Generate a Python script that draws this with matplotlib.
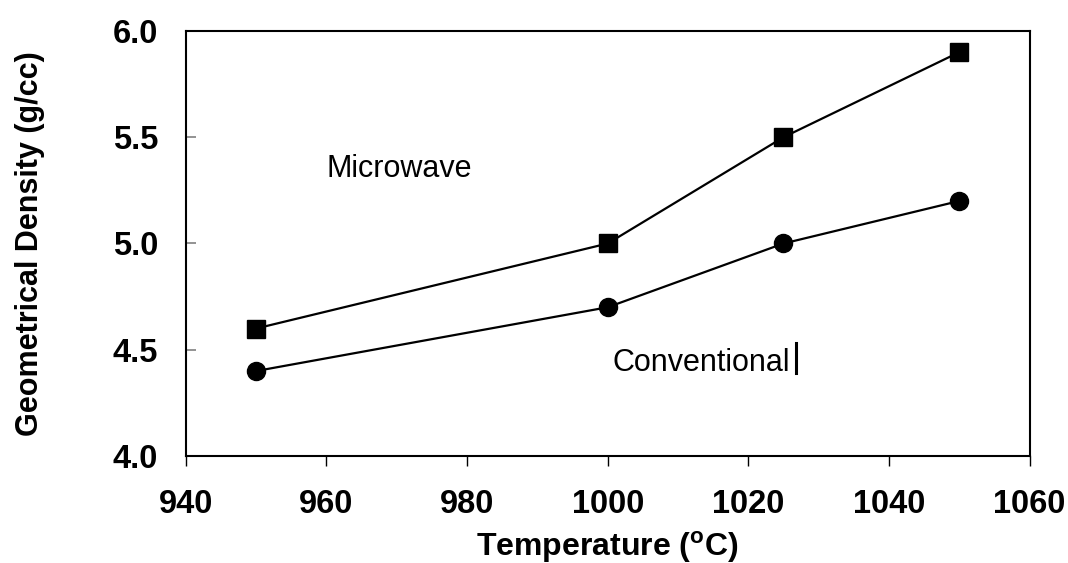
import matplotlib
matplotlib.use("Agg")
import matplotlib.pyplot as plt

plt.rcParams["font.family"] = ["Liberation Sans", "DejaVu Sans"]
plt.rcParams["mathtext.fontset"] = "custom"
plt.rcParams["mathtext.rm"] = "Liberation Sans:bold"

temperature = [950, 1000, 1025, 1050]
microwave = [4.6, 5.0, 5.5, 5.9]
conventional = [4.4, 4.7, 5.0, 5.2]

x_ticks = [940, 960, 980, 1000, 1020, 1040, 1060]
y_ticks = [4.0, 4.5, 5.0, 5.5, 6.0]

fig = plt.figure(figsize=(10.68, 5.63), dpi=100)
ax = fig.add_axes([0.174, 0.190, 0.790, 0.755])

ax.plot(temperature, microwave, "ks-", markersize=13, linewidth=1.6)
ax.plot(temperature, conventional, "ko-", markersize=13, linewidth=1.6)

ax.set_xlim(940, 1060)
ax.set_ylim(4.0, 6.0)
ax.set_xticks(x_ticks)
ax.set_yticks(y_ticks)
ax.set_yticklabels([f"{v:.1f}" for v in y_ticks])

for label in ax.get_xticklabels() + ax.get_yticklabels():
    label.set_fontweight("bold")
    label.set_fontsize(23.5)
ax.tick_params(axis="x", direction="out", length=7, width=1, pad=17)
ax.tick_params(axis="y", direction="in", length=7, width=1.2, color="#808080", pad=20)

for spine in ax.spines.values():
    spine.set_linewidth(1.5)

ax.set_xlabel(r"Temperature ($^{\mathrm{o}}$C)", fontsize=23, fontweight="bold")
ax.set_ylabel("Geometrical Density (g/cc)", fontsize=22, fontweight="bold")
ax.xaxis.set_label_coords(0.5, -0.172)
ax.yaxis.set_label_coords(-0.167, 0.5)

ax.text(960, 5.35, "Microwave", fontsize=22, va="center", ha="left")
ax.text(1000.7, 4.44, "Conventional", fontsize=22, va="center", ha="left")
# stray cursor bar next to the label in the original
ax.plot([1026.8, 1026.8], [4.39, 4.53], color="black", linewidth=2.2)

plt.savefig("out.png", dpi=100)
